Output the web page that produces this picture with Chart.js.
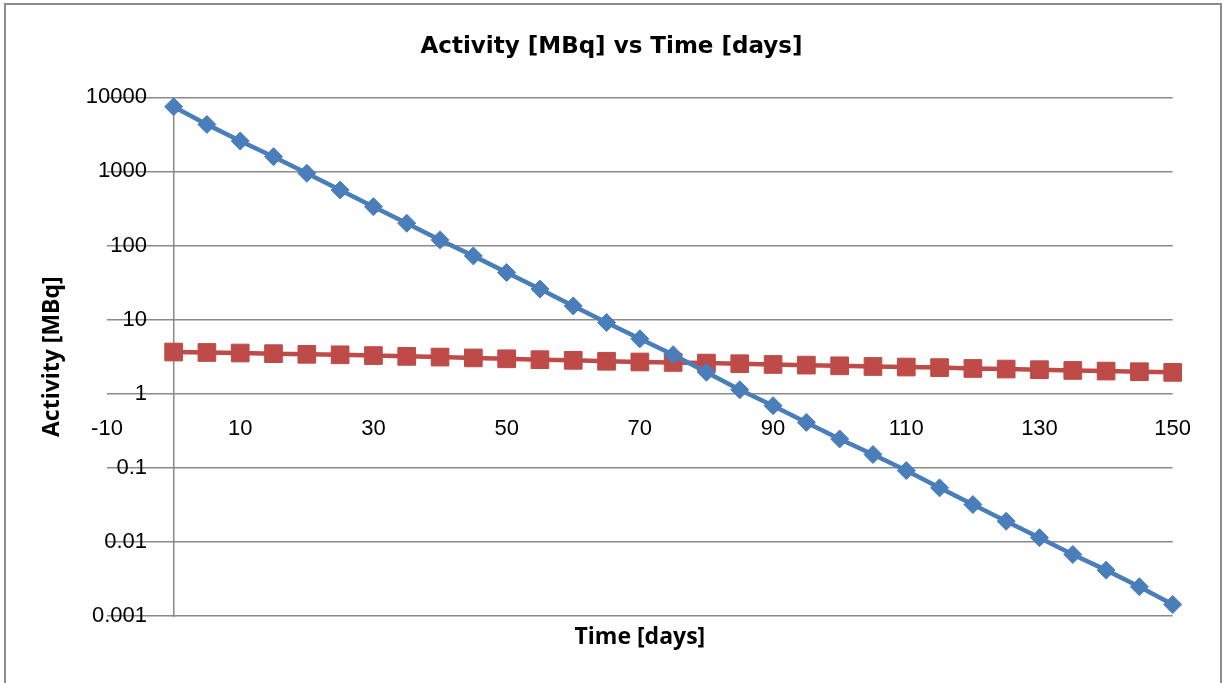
<!DOCTYPE html>
<html>
<head>
<meta charset="utf-8">
<title>Activity [MBq] vs Time [days]</title>
<script src="https://cdn.jsdelivr.net/npm/chart.js@4/dist/chart.umd.min.js"></script>
<style>
    body { margin: 0; background: #ffffff; }
    #chartBox { position: relative; width: 1223px; height: 683px; overflow: hidden; }
    #chartBorder { position: absolute; left: 4px; top: 3px; width: 1214px; height: 700px; border: 2px solid #8c8c8c; pointer-events: none; }
</style>
</head>
<body>
<div id="chartBox">
    <canvas id="activityChart" width="1223" height="683"></canvas>
    <div id="chartBorder"></div>
</div>
<script>
// Time points (days)
const days = [0, 5, 10, 15, 20, 25, 30, 35, 40, 45, 50, 55, 60, 65, 70, 75,
    80, 85, 90, 95, 100, 105, 110, 115, 120, 125, 130, 135, 140, 145, 150];

// Blue series (diamonds)
const blueActivity = [7450, 4310, 2570, 1580, 943, 561, 334, 200, 119, 72.4, 43.1, 25.8, 15.3, 9.14, 5.5, 3.36,
    1.95, 1.13, 0.689, 0.41, 0.245, 0.151, 0.0917, 0.0536, 0.0319, 0.019, 0.0114, 0.00676, 0.00416, 0.00248, 0.00143];

// Red series (squares)
const redActivity = [3.65, 3.6, 3.54, 3.47, 3.4, 3.35, 3.27, 3.19, 3.12, 3.04, 2.96, 2.88, 2.82, 2.74, 2.68, 2.64,
    2.59, 2.54, 2.48, 2.43, 2.38, 2.33, 2.29, 2.25, 2.19, 2.15, 2.11, 2.06, 2.02, 1.98, 1.94];

// Axis ticks
const yTickValues = [0.001, 0.01, 0.1, 1, 10, 100, 1000, 10000];
const xRange = [-10, 150];
const xTickStep = 20;

const gridGrey = '#8a8a8a';
const tickFont = { family: 'Liberation Sans', size: 22 };
const axisTitleFont = { family: 'Open Sans', weight: 'bold', size: 23 };

function toPoints(values) {
    var points = [];
    for (let i = 0; i < days.length; i++) {
        points.push({ x: days[i], y: values[i] });
    }
    return points;
}

function initChart() {
    var chartControl = document.getElementById('activityChart');

    new Chart(chartControl, {
        type: 'line',
        data: {
            datasets: [
                {
                    label: 'Series1',
                    data: toPoints(blueActivity),
                    borderColor: '#4A7EBB',
                    backgroundColor: '#4A7EBB',
                    borderWidth: 4.5,
                    pointStyle: 'rectRot',
                    pointRadius: 9,
                    pointBorderWidth: 1,
                    tension: 0,
                    clip: false
                },
                {
                    label: 'Series2',
                    data: toPoints(redActivity),
                    borderColor: '#BE4B48',
                    backgroundColor: '#BE4B48',
                    borderWidth: 4.5,
                    pointStyle: 'rect',
                    pointRadius: 12.5,
                    pointBorderWidth: 1,
                    tension: 0,
                    clip: false
                }
            ]
        },
        options: {
            responsive: false,
            animation: false,
            events: [],
            layout: {
                padding: 0
            },
            scales: {
                x: {
                    type: 'linear',
                    min: xRange[0],
                    max: xRange[1],
                    //Horizontal axis crosses the vertical one at 1.
                    position: { y: 1 },
                    grid: { display: false, drawTicks: false },
                    border: { display: false },
                    ticks: {
                        stepSize: xTickStep,
                        color: '#000',
                        font: tickFont,
                        padding: 22,
                        maxRotation: 0,
                        autoSkip: false
                    }
                },
                y: {
                    type: 'logarithmic',
                    position: 'left',
                    min: yTickValues[0],
                    max: yTickValues[yTickValues.length - 1],
                    afterBuildTicks: function (scale) {
                        scale.ticks = yTickValues.map(function (v) { return { value: v }; });
                    },
                    afterFit: function (scale) {
                        scale.width = 107;
                    },
                    grid: { color: gridGrey, lineWidth: 1.5, drawTicks: false },
                    border: { display: false },
                    ticks: {
                        color: '#000',
                        font: tickFont,
                        //Mirrored so the labels can sit inside the plot, left of the line at x = 0.
                        mirror: true,
                        crossAlign: 'far',
                        padding: -21.2,
                        callback: function (value) { return String(value); }
                    },
                    title: {
                        display: true,
                        text: 'Activity [MBq]',
                        color: '#000',
                        font: axisTitleFont,
                        padding: { top: 38.7, bottom: 0 }
                    }
                },
                yAxisLine: {
                    type: 'linear',
                    position: { x: 0 },
                    grid: { display: false, drawTicks: false },
                    ticks: { display: false },
                    border: { display: true, color: gridGrey, width: 1.5 }
                },
                //Empty space right of the plot area.
                rightGap: {
                    type: 'linear',
                    position: 'right',
                    afterFit: function (scale) {
                        scale.width = 50.3;
                    },
                    grid: { display: false, drawTicks: false },
                    ticks: { display: false },
                    border: { display: false }
                },
                xTitle: {
                    type: 'linear',
                    position: 'bottom',
                    afterFit: function (scale) {
                        scale.height = 67;
                    },
                    grid: { display: false, drawTicks: false },
                    ticks: { display: false },
                    border: { display: false },
                    title: {
                        display: true,
                        text: 'Time [days]',
                        color: '#000',
                        font: axisTitleFont,
                        padding: { top: 0, bottom: 31.7 }
                    }
                }
            },
            plugins: {
                legend: { display: false },
                tooltip: { enabled: false },
                title: {
                    display: true,
                    text: 'Activity [MBq] vs Time [days]',
                    color: '#000',
                    font: { family: 'DejaVu Sans', weight: 'bold', size: 23 },
                    padding: { top: 33.2, bottom: 36.5 }
                }
            }
        }
    });
}

initChart();
</script>
</body>
</html>
